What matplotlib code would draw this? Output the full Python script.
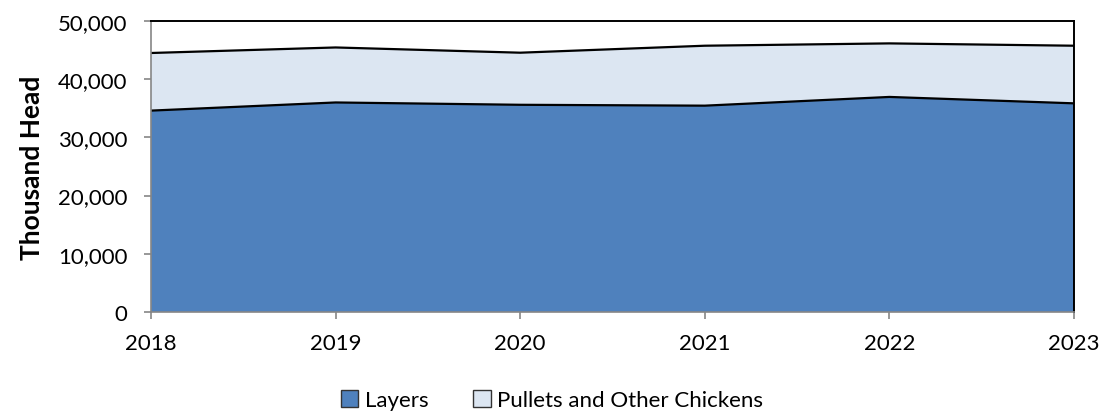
import matplotlib.pyplot as plt
from matplotlib.patches import Patch
from matplotlib.ticker import FuncFormatter

years = [2018, 2019, 2020, 2021, 2022, 2023]
layers = [34600, 36000, 35600, 35450, 36950, 35850]
pullets = [9900, 9450, 8950, 10300, 9200, 9900]

blue = '#4F81BD'
light = '#DCE6F2'
grey = '#868686'

plt.rcParams['font.family'] = ['Lato', 'DejaVu Sans']

fig = plt.figure(figsize=(11.04, 4.14), dpi=100)
ax = fig.add_axes([0.1368, 0.244, 0.836, 0.7029])

total = [a + b for a, b in zip(layers, pullets)]
ax.fill_between(years, 0, layers, facecolor=blue, edgecolor='none')
ax.fill_between(years, layers, total, facecolor=light, edgecolor='none')
ax.plot(years, layers, color='black', lw=1.6)
ax.plot(years, total, color='black', lw=1.6)
ax.plot([years[-1], years[-1]], [0, total[-1]], color='black', lw=1.2)

ax.set_xlim(years[0], years[-1])
ax.set_ylim(0, 50000)
ax.set_xticks(years)
ax.set_yticks(range(0, 50001, 10000))
ax.yaxis.set_major_formatter(FuncFormatter(lambda v, p: f'{int(v):,}'))

for s in ['left', 'bottom']:
    ax.spines[s].set_color(grey)
    ax.spines[s].set_linewidth(1.2)
for s in ['top', 'right']:
    ax.spines[s].set_color('black')
    ax.spines[s].set_linewidth(1.4)

ax.tick_params(axis='both', direction='out', length=5, width=1.2, color=grey,
               labelsize=16, colors='black')
ax.tick_params(axis='x', pad=10)
ax.tick_params(axis='y', pad=12)
ax.set_ylabel('Thousand Head', fontsize=19, fontweight='bold', labelpad=10)

handles = [Patch(facecolor=blue, edgecolor='#333333', label='Layers'),
           Patch(facecolor=light, edgecolor='#333333', label='Pullets and Other Chickens')]
fig.legend(handles=handles, loc='center', bbox_to_anchor=(0.5, 0.032), ncol=2,
           frameon=False, fontsize=16, handlelength=0.8, handleheight=0.8,
           handletextpad=0.3, columnspacing=2.0)

fig.savefig('out.png', dpi=100)
